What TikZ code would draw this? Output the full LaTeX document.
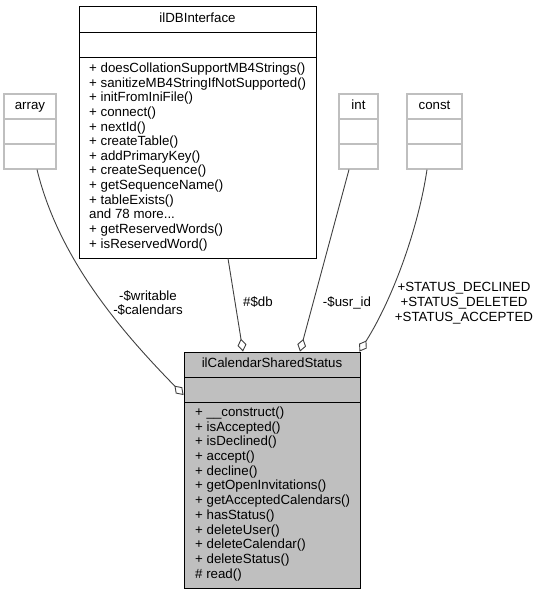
\documentclass[tikz,border=0pt]{standalone}
\usepackage{fontspec}
\setmainfont{Liberation Sans}
\usetikzlibrary{arrows.meta}
\definecolor{boxgray}{HTML}{BFBFBF}
\definecolor{edgegray}{HTML}{404040}
\begin{document}
\begin{tikzpicture}[x=1pt,y=-1pt,
  every node/.style={font=\fontsize{13.3}{14.7}\selectfont, inner sep=0pt},
  txt/.style={text height=9.6pt, text depth=2.8pt},
  greybox/.style={draw=boxgray, line width=1.2pt},
  blackbox/.style={draw=black, line width=0.9pt},
  mainbox/.style={draw=black, fill=boxgray, line width=0.9pt},
  sepgrey/.style={draw=boxgray, line width=1.2pt},
  sepblack/.style={draw=black, line width=0.9pt},
  conn/.style={draw=edgegray, line width=0.9pt, -{Diamond[open,length=13pt,width=9pt]}}]
\useasboundingbox (0,0) rectangle (540,595);

% array
\node[greybox, minimum width=52pt, minimum height=75pt] (array) at (30,131.5) {};
\draw[sepgrey] (4,119) -- (56,119) (4,144) -- (56,144);
\node[txt] (arrayt) at (30,106.5) {array};

% int
\node[greybox, minimum width=39pt, minimum height=75pt] (int) at (358.5,131.5) {};
\draw[sepgrey] (339,119) -- (378,119) (339,144) -- (378,144);
\node[txt] (intt) at (358.5,106.5) {int};

% const
\node[greybox, minimum width=55pt, minimum height=75pt] (const) at (434.5,131.5) {};
\draw[sepgrey] (407,119) -- (462,119) (407,144) -- (462,144);
\node[txt] (constt) at (434.5,106.5) {const};

% ilDBInterface
\node[blackbox, minimum width=237pt, minimum height=252pt] (db) at (197.5,132) {};
\draw[sepblack] (79,32) -- (316,32) (79,57) -- (316,57);
\node[txt] (dbt) at (197.5,19) {ilDBInterface};
\foreach \t [count=\i from 0] in {%
  {+ doesCollationSupportMB4Strings()},
  {+ sanitizeMB4StringIfNotSupported()},
  {+ initFromIniFile()},
  {+ connect()},
  {+ nextId()},
  {+ createTable()},
  {+ addPrimaryKey()},
  {+ createSequence()},
  {+ getSequenceName()},
  {+ tableExists()},
  {and 78 more.{}.{}.},
  {+ getReservedWords()},
  {+ isReservedWord()}}
  \node[txt, anchor=west] (dbm\i) at (89,{69+14.65*\i}) {\t};

% ilCalendarSharedStatus
\node[mainbox, minimum width=176pt, minimum height=236pt] (main) at (272,470) {};
\draw[sepblack] (184,377) -- (360,377) (184,402) -- (360,402);
\node[txt] (maint) at (272,364.5) {ilCalendarSharedStatus};
\foreach \t [count=\i from 0] in {%
  {+ \_\_construct()},
  {+ isAccepted()},
  {+ isDeclined()},
  {+ accept()},
  {+ decline()},
  {+ getOpenInvitations()},
  {+ getAcceptedCalendars()},
  {+ hasStatus()},
  {+ deleteUser()},
  {+ deleteCalendar()},
  {+ deleteStatus()},
  {\# read()}}
  \node[txt, anchor=west] (mm\i) at (195,{413+14.7*\i}) {\t};

% connectors
\draw[conn] ([xshift=7pt]array.south) .. controls (58,255) and (115,325) .. ([yshift=75pt]main.west);
\draw[conn] ([xshift=30.5pt]db.south) -- ([xshift=-29pt]main.north);
\draw[conn] ([xshift=-9.5pt]int.south) -- ([xshift=28pt]main.north);
\draw[conn] ([xshift=-7.5pt]const.south) .. controls (418,230) and (392,300) .. ([xshift=-1pt]main.north east);

% labels
\node[align=center] (lw) at (148,303) {-\$writable\\-\$calendars};
\node[txt] (ldb) at (258,303) {\#\$db};
\node[txt] (lusr) at (347,303) {-\$usr\_id};
\node[align=center] (lst) at (464,303) {+STATUS\_DECLINED\\+STATUS\_DELETED\\+STATUS\_ACCEPTED};
\end{tikzpicture}
\end{document}
